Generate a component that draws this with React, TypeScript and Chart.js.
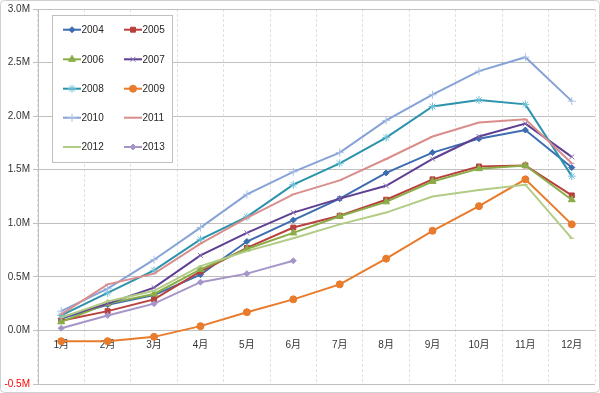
import React, { useEffect, useRef } from 'react';
import { Chart, registerables } from 'chart.js';
import { drawPoint } from 'chart.js/helpers';

Chart.register(...registerables);

const months = ['1月', '2月', '3月', '4月', '5月', '6月', '7月', '8月', '9月', '10月', '11月', '12月'];
const yTicks = [-0.5, 0, 0.5, 1.0, 1.5, 2.0, 2.5, 3.0];

// values in millions
const s2004 = [0.11, 0.24, 0.33, 0.52, 0.83, 1.03, 1.23, 1.47, 1.66, 1.79, 1.87, 1.52];
const s2005 = [0.09, 0.18, 0.29, 0.55, 0.77, 0.96, 1.07, 1.22, 1.41, 1.53, 1.54, 1.26];
const s2006 = [0.08, 0.25, 0.34, 0.57, 0.76, 0.91, 1.065, 1.2, 1.39, 1.51, 1.54, 1.22];
const s2007 = [0.12, 0.25, 0.4, 0.7, 0.91, 1.1, 1.23, 1.35, 1.6, 1.81, 1.93, 1.62];
const s2008 = [0.14, 0.35, 0.56, 0.85, 1.06, 1.36, 1.56, 1.8, 2.09, 2.15, 2.11, 1.44];
const s2009 = [-0.1, -0.1, -0.06, 0.04, 0.17, 0.29, 0.43, 0.67, 0.93, 1.16, 1.41, 0.99];
const s2010 = [0.18, 0.39, 0.66, 0.96, 1.27, 1.48, 1.66, 1.96, 2.2, 2.42, 2.55, 2.14];
const s2011 = [0.15, 0.43, 0.53, 0.81, 1.05, 1.27, 1.4, 1.6, 1.81, 1.94, 1.97, 1.56];
const s2012 = [0.12, 0.27, 0.37, 0.6, 0.74, 0.86, 0.99, 1.1, 1.25, 1.31, 1.36, 0.86];
const s2013 = [0.02, 0.14, 0.25, 0.45, 0.53, 0.65];

const seriesNames = ['2004', '2005', '2006', '2007', '2008', '2009', '2010', '2011', '2012', '2013'];
const seriesData = [s2004, s2005, s2006, s2007, s2008, s2009, s2010, s2011, s2012, s2013];
const lineColors = ['#3d6db0', '#b8403d', '#8aad48', '#5e3f92', '#2b93ad', '#e87b2c', '#86a3d6', '#d98e8c', '#b2cb85', '#a595c8'];
const markerColors = ['#3d6db0', '#b8403d', '#8aad48', '#8a74b4', '#6cc0d6', '#e87b2c', '#a9bfe6', '#d98e8c', '#b2cb85', '#a595c8'];
const markerStyles = ['rectRot', 'rect', 'triangle', 'crossRot', 'star', 'circle', 'cross', 'line', 'line', 'rectRot'];
const markerRadii = [3, 3.5, 4, 3.5, 4, 3.5, 4, 2.5, 2.5, 3];

const FONT = '"Liberation Sans", "Noto Sans CJK SC", sans-serif';

const bgPlugin = {
  id: 'bgBorder',
  beforeDraw(chart: any) {
    const ctx = chart.ctx;
    ctx.save();
    ctx.fillStyle = '#ffffff';
    ctx.fillRect(0, 0, chart.width, chart.height);
    ctx.strokeStyle = '#d0d0d0';
    ctx.lineWidth = 1;
    ctx.beginPath();
    ctx.roundRect(0.5, 0.5, chart.width - 1, chart.height - 1, 4);
    ctx.stroke();
    ctx.restore();
  },
};

const legendPlugin = {
  id: 'boxLegend',
  afterDatasetsDraw(chart: any) {
    const ctx = chart.ctx;
    ctx.save();
    const bx = 52.5, by = 15.5, bw = 120, bh = 147;
    ctx.fillStyle = '#ffffff';
    ctx.fillRect(bx, by, bw, bh);
    ctx.strokeStyle = '#bfbfbf';
    ctx.lineWidth = 1;
    ctx.strokeRect(bx, by, bw, bh);
    const colX = [63, 124];
    const rowY = [29.7, 59.3, 88.7, 117.7, 147];
    ctx.font = `10px ${FONT}`;
    ctx.textBaseline = 'middle';
    ctx.textAlign = 'left';
    seriesNames.forEach((name, i) => {
      const x = colX[i % 2];
      const y = rowY[Math.floor(i / 2)];
      ctx.strokeStyle = lineColors[i];
      ctx.lineWidth = 2;
      ctx.beginPath();
      ctx.moveTo(x, y);
      ctx.lineTo(x + 18, y);
      ctx.stroke();
      ctx.fillStyle = markerColors[i];
      ctx.strokeStyle = markerColors[i];
      ctx.lineWidth = 1;
      drawPoint(ctx, { pointStyle: markerStyles[i], radius: markerRadii[i], rotation: 0, borderWidth: 1 } as any, x + 9, y);
      ctx.fillStyle = '#262626';
      ctx.fillText(name, x + 18.5, y + 0.5);
    });
    ctx.restore();
  },
};

export default function App() {
  const ref = useRef<HTMLCanvasElement>(null);
  useEffect(() => {
    if (!ref.current) return;
    const datasets = seriesData.map((d, i) => ({
      label: seriesNames[i],
      data: d,
      borderColor: lineColors[i],
      backgroundColor: markerColors[i],
      pointBorderColor: markerColors[i],
      pointBackgroundColor: markerColors[i],
      pointStyle: markerStyles[i] as any,
      pointRadius: markerRadii[i],
      pointBorderWidth: 1,
      borderWidth: 2,
      tension: 0,
      order: 20 - i,
      fill: false,
    }));
    const chart = new Chart(ref.current, {
      type: 'line',
      data: { labels: months, datasets },
      options: {
        animation: false,
        responsive: false,
        layout: { padding: { left: 0, right: 2, top: 6, bottom: 8 } },
        plugins: { legend: { display: false }, tooltip: { enabled: false } },
        scales: {
          x: {
            type: 'category',
            position: { y: 0 } as any,
            offset: true,
            grid: { offset: true, color: '#e0e0e0', lineWidth: 1, drawTicks: false },
            border: { display: false, dash: [3, 2] },
            ticks: { color: '#333333', font: { size: 10, family: FONT }, padding: 9, maxRotation: 0, autoSkip: false },
          },
          y: {
            min: -0.5,
            max: 3.0,
            afterBuildTicks: (scale: any) => {
              scale.ticks = yTicks.map((v) => ({ value: v }));
            },
            afterFit: (scale: any) => {
              scale.width = 38;
            },
            grid: { color: '#c0c0c0', lineWidth: 1, tickLength: 5 },
            border: { display: true, color: '#c0c0c0' },
            ticks: {
              padding: 3,
              font: { size: 10, family: FONT },
              color: (c: any) => (c.tick && c.tick.value < 0 ? '#ff0000' : '#333333'),
              callback: (v: any) => `${Number(v).toFixed(1)}M`,
            },
          },
        },
      },
      plugins: [bgPlugin, legendPlugin],
    });
    return () => chart.destroy();
  }, []);
  return (
    <div style={{ position: 'fixed', left: 0, top: 0, width: 600, height: 393 }}>
      <canvas ref={ref} width={600} height={393} style={{ display: 'block' }} />
    </div>
  );
}
